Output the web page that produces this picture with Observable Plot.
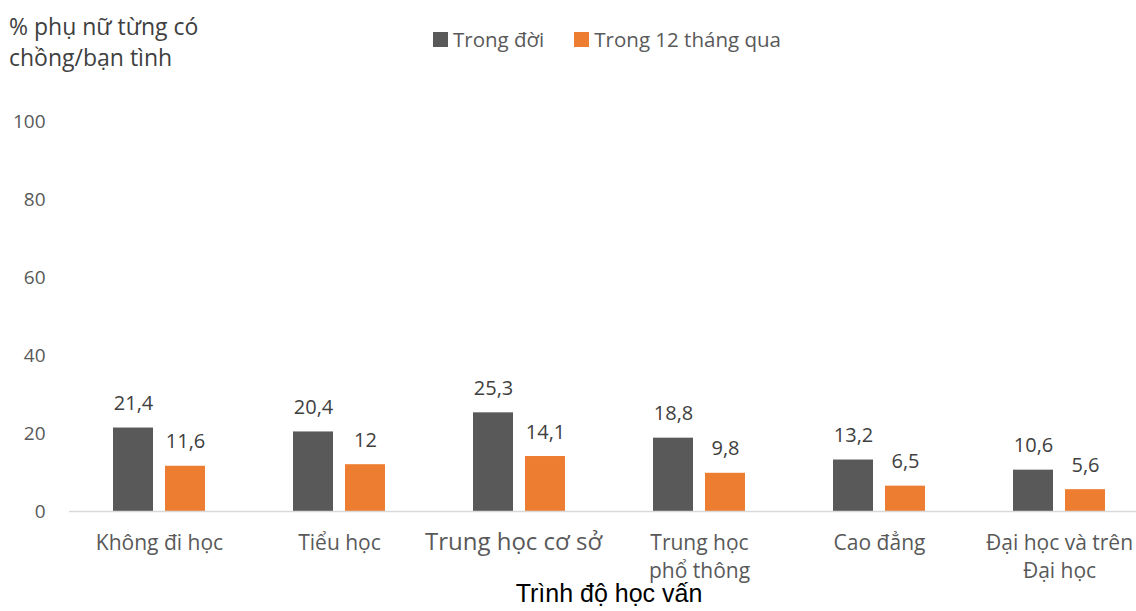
<!DOCTYPE html>
<html>
<head>
<meta charset="utf-8">
<script src="https://cdn.jsdelivr.net/npm/d3@7"></script>
<script src="https://cdn.jsdelivr.net/npm/@observablehq/plot@0.6"></script>
<style>
  html, body { margin: 0; padding: 0; background: #fff; }
  #wrap { position: relative; width: 1136px; height: 611px; overflow: hidden; font-family: "Open Sans", sans-serif; }
  #title { position: absolute; left: 9px; top: 11px; font-size: 23px; line-height: 31px; color: #404040; }
  #legend { position: absolute; left: 433px; top: 25px; display: flex; align-items: center; font-size: 20.5px; color: #595959; }
  #legend .item { display: flex; align-items: center; margin-right: 30px; }
  #legend .sw { width: 15px; height: 15px; margin-right: 5px; }
  #chart { position: absolute; left: 0; top: 80px; }
  #xtitle { position: absolute; left: 0; width: 1218px; text-align: center; top: 579px; font-family: "Liberation Sans", Arial, sans-serif; font-size: 25px; color: #000; line-height: 29px; }
</style>
</head>
<body>
<div id="wrap">
  <div id="title">% phụ nữ từng có<br>chồng/bạn tình</div>
  <div id="legend"></div>
  <div id="chart"></div>
  <div id="xtitle">Trình độ học vấn</div>
</div>
<script>
const categories = ["Không đi học", "Tiểu học", "Trung học cơ sở", "Trung học\nphổ thông", "Cao đẳng", "Đại học và trên\nĐại học"];
const series = ["Trong đời", "Trong 12 tháng qua"];
const lifetime = [21.4, 20.4, 25.3, 18.8, 13.2, 10.6];
const past12 = [11.6, 12, 14.1, 9.8, 6.5, 5.6];
const yTicks = [0, 20, 40, 60, 80, 100];
const colors = ["#595959", "#ED7D31"];

const rowsA = categories.map((c, i) => ({cat: c, series: series[0], v: lifetime[i]}));
const rowsB = categories.map((c, i) => ({cat: c, series: series[1], v: past12[i]}));
const fmt = v => String(v).replace(".", ",");

// legend
const legend = document.getElementById("legend");
series.forEach((s, i) => {
  const item = document.createElement("div");
  item.className = "item";
  const sw = document.createElement("div");
  sw.className = "sw";
  sw.style.background = colors[i];
  const t = document.createElement("span");
  t.textContent = s;
  item.appendChild(sw); item.appendChild(t);
  legend.appendChild(item);
});

const chart = Plot.plot({
  width: 1136,
  height: 510,
  marginLeft: 69,
  marginRight: 0,
  marginTop: 41,
  marginBottom: 79,
  style: {fontFamily: "'Open Sans', sans-serif", fontSize: "19px", color: "#595959", background: "white", overflow: "visible"},
  x: {domain: categories, range: [69, 1149], padding: 0, label: null},
  y: {domain: [0, 100], label: null},
  color: {domain: series, range: colors},
  marks: [
    Plot.axisY({ticks: yTicks, tickSize: 0, tickPadding: 24, label: null, fontSize: 19}),
    Plot.axisX({tickSize: 0, tickPadding: 19, label: null, lineHeight: 1.33, fontSize: 21}),
    Plot.barY(rowsA, {x: "cat", y: "v", fill: "series", insetLeft: 70, insetRight: 70, dx: -26}),
    Plot.barY(rowsB, {x: "cat", y: "v", fill: "series", insetLeft: 70, insetRight: 70, dx: 26}),
    Plot.ruleY([0], {stroke: "#d9d9d9", strokeWidth: 1.5}),
    Plot.text(rowsA, {x: "cat", y: "v", text: d => fmt(d.v), dx: -26, dy: -18, lineAnchor: "bottom", fill: "#404040", fontSize: 20}),
    Plot.text(rowsB, {x: "cat", y: "v", text: d => fmt(d.v), dx: 26, dy: -18, lineAnchor: "bottom", fill: "#404040", fontSize: 20})
  ]
});
document.getElementById("chart").appendChild(chart);

d3.select(chart).selectAll("text")
  .filter(function() { return this.textContent === "Trung học cơ sở"; })
  .attr("font-size", 24)
  .attr("transform", function() { return (this.getAttribute("transform") || "") + " translate(-6,-3)"; });
</script>
</body>
</html>
